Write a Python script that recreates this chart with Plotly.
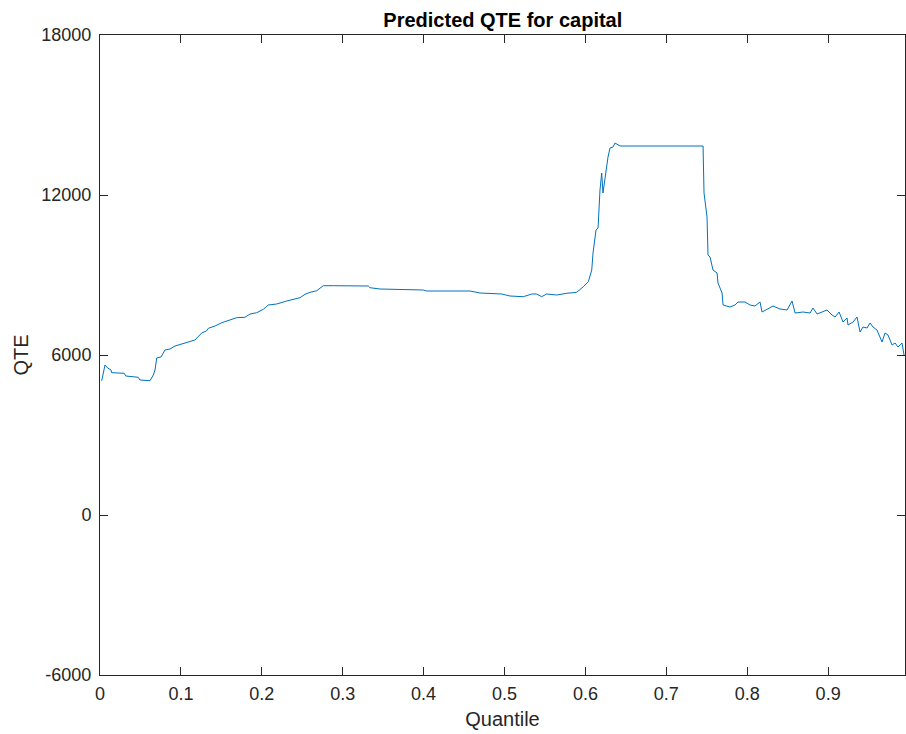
import plotly.graph_objects as go

quantiles = [0.0021, 0.0062, 0.0095, 0.0136, 0.0145, 0.0300, 0.0318, 0.0473, 0.0494, 0.0618,
             0.0659, 0.0680, 0.0701, 0.0754, 0.0803, 0.0865, 0.0927, 0.1010, 0.1091, 0.1174,
             0.1257, 0.1319, 0.1339, 0.1422, 0.1504, 0.1586, 0.1690, 0.1792, 0.1854, 0.1937,
             0.2019, 0.2080, 0.2184, 0.2308, 0.2389, 0.2472, 0.2534, 0.2596, 0.2679, 0.2760,
             0.2884, 0.3316, 0.3337, 0.3461, 0.3996, 0.4038, 0.4574, 0.4697, 0.4965, 0.5068,
             0.5232, 0.5336, 0.5397, 0.5459, 0.5521, 0.5645, 0.5769, 0.5892, 0.5974, 0.6036,
             0.6078, 0.6094, 0.6131, 0.6156, 0.6180, 0.6201, 0.6217, 0.6242, 0.6263, 0.6279,
             0.6304, 0.6341, 0.6366, 0.6391, 0.6428, 0.7454, 0.7466, 0.7503, 0.7515, 0.7540,
             0.7577, 0.7627, 0.7639, 0.7664, 0.7689, 0.7701, 0.7787, 0.7849, 0.7886, 0.7973,
             0.8035, 0.8096, 0.8158, 0.8183, 0.8245, 0.8319, 0.8405, 0.8492, 0.8554, 0.8591,
             0.8690, 0.8776, 0.8813, 0.8863, 0.8925, 0.8986, 0.9048, 0.9085, 0.9135, 0.9184,
             0.9234, 0.9246, 0.9308, 0.9357, 0.9394, 0.9431, 0.9481, 0.9518, 0.9555, 0.9604,
             0.9666, 0.9703, 0.9740, 0.9790, 0.9827, 0.9864, 0.9913, 0.9938, 0.9963]

qte = [5036, 5625, 5512, 5437, 5336, 5314, 5212, 5164, 5062, 5036,
       5250, 5437, 5887, 5925, 6187, 6225, 6337, 6412, 6461, 6562,
       6825, 6911, 7001, 7087, 7211, 7286, 7399, 7414, 7537, 7586,
       7714, 7875, 7912, 8025, 8100, 8149, 8276, 8351, 8411, 8599,
       8599, 8587, 8524, 8475, 8437, 8400, 8400, 8325, 8287, 8212,
       8186, 8287, 8287, 8186, 8287, 8250, 8314, 8351, 8561, 8749,
       9187, 9825, 10687, 10762, 12187, 12825, 12075, 12675, 13050, 13425,
       13762, 13800, 13950, 13912, 13837, 13837, 12075, 11175, 9750, 9675,
       9187, 9075, 8700, 8512, 8325, 7875, 7800, 7875, 7987, 7987,
       7875, 7837, 7987, 7612, 7725, 7837, 7725, 7687, 8025, 7575,
       7612, 7575, 7762, 7537, 7612, 7687, 7500, 7425, 7612, 7237,
       7387, 7125, 7237, 7425, 6862, 7050, 7012, 7200, 7050, 6937,
       6487, 6825, 6750, 6375, 6450, 6300, 6450, 6000, 5925]

x_ticks = [0, 0.1, 0.2, 0.3, 0.4, 0.5, 0.6, 0.7, 0.8, 0.9]
x_tick_labels = ["0", "0.1", "0.2", "0.3", "0.4", "0.5", "0.6", "0.7", "0.8", "0.9"]
y_ticks = [-6000, 0, 6000, 12000, 18000]
y_tick_labels = ["-6000", "0", "6000", "12000", "18000"]

FONT = "Liberation Sans, Arial, Helvetica, sans-serif"

fig = go.Figure()
fig.add_trace(go.Scatter(x=quantiles, y=qte, mode="lines",
                         line=dict(color="#0072BD", width=1), showlegend=False))

axis_common = dict(showline=True, linecolor="#262626", linewidth=1, mirror="ticks",
                   ticks="inside", ticklen=8, tickcolor="#262626", tickwidth=1,
                   showgrid=False, zeroline=False, automargin=False,
                   tickfont=dict(family=FONT, size=18, color="#262626"))

fig.update_layout(
    width=906, height=734,
    margin=dict(l=100, r=1, t=35, b=59, autoexpand=False),
    paper_bgcolor="white", plot_bgcolor="white",
    title=dict(text="<b>Predicted QTE for capital</b>", x=0.555, xanchor="center",
               y=0.973, yanchor="middle", automargin=False,
               font=dict(family=FONT, size=20, color="black")),
    xaxis=dict(range=[0, 0.995], tickvals=x_ticks, ticktext=x_tick_labels,
               ticklabelstandoff=2,
               title=dict(text="Quantile", standoff=9,
                          font=dict(family=FONT, size=20, color="#262626")),
               **axis_common),
    yaxis=dict(range=[-6000, 18000], tickvals=y_ticks, ticktext=y_tick_labels,
               ticklabelstandoff=4,
               title=dict(text="QTE", standoff=7,
                          font=dict(family=FONT, size=20, color="#262626")),
               **axis_common),
)

fig.write_html("out.html", config={"displayModeBar": False},
               post_script="document.body.style.margin='0';document.body.style.overflow='hidden';")
